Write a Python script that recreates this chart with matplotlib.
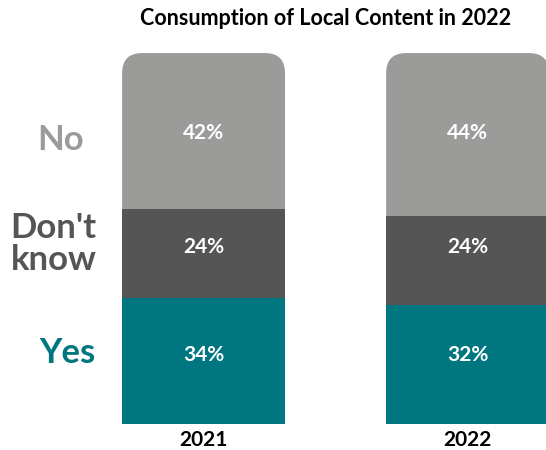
import matplotlib
matplotlib.use("Agg")
import matplotlib.pyplot as plt
from matplotlib.patches import FancyBboxPatch

years = ["2021", "2022"]
categories = ["Yes", "Don't know", "No"]
yes = [34, 32]
dont_know = [24, 24]
no = [42, 44]

TEAL = "#007680"
DARK = "#555555"
LIGHT = "#9b9b9a"
colors = [TEAL, DARK, LIGHT]
label_names = ["Yes", "Don't\nknow", "No"]

plt.rcParams["font.family"] = ["Lato", "DejaVu Sans"]

fig = plt.figure(figsize=(5.46, 4.5), dpi=100)
ax = fig.add_axes([0, 0, 1, 1])
ax.set_xlim(-0.771, 1.297)
ax.set_ylim(-7.0, 114.3)
ax.axis("off")

x = [0, 1]
width = 0.617
series = [yes, dont_know, no]
bottom = [0, 0]
seg_bars = []
for vals, col in zip(series, colors):
    bars = ax.bar(x, vals, width, bottom=bottom, color=col, linewidth=0)
    seg_bars.append(bars)
    bottom = [b + v for b, v in zip(bottom, vals)]

# round the top corners of the stack (circular in pixels)
aspect = 264 / 3.71
for rect in seg_bars[-1]:
    x0 = rect.get_x()
    clip = FancyBboxPatch((x0, 0), rect.get_width(), rect.get_y() + rect.get_height(),
                          boxstyle="round,pad=0,rounding_size=0.076",
                          mutation_aspect=aspect, transform=ax.transData)
    rect.set_clip_path(clip)

# value labels (same row height for both years)
row_y = [18.6, 47.7, 78.4]
for vals, yy in zip(series, row_y):
    for xi, v in zip(x, vals):
        ax.text(xi, yy, f"{v}%", color="white", fontsize=15, fontweight="bold",
                ha="center", va="center")

# category labels on the left
name_pos = [(-0.516, 19.1), (-0.569, 48.5), (-0.543, 76.5)]
for name, col, (px, py) in zip(label_names, colors, name_pos):
    ax.text(px, py, name, color=col, fontsize=25, fontweight="bold",
            ha="center", va="center", linespacing=1.0)

# year labels
for xi, yr in zip(x, years):
    ax.text(xi, -4.2, yr, color="black", fontsize=15, fontweight="bold",
            ha="center", va="center")

ax.text(0.463, 109.2, "Consumption of Local Content in 2022", color="black",
        fontsize=15.5, fontweight="bold", ha="center", va="center")

fig.savefig("out.png", dpi=100)
